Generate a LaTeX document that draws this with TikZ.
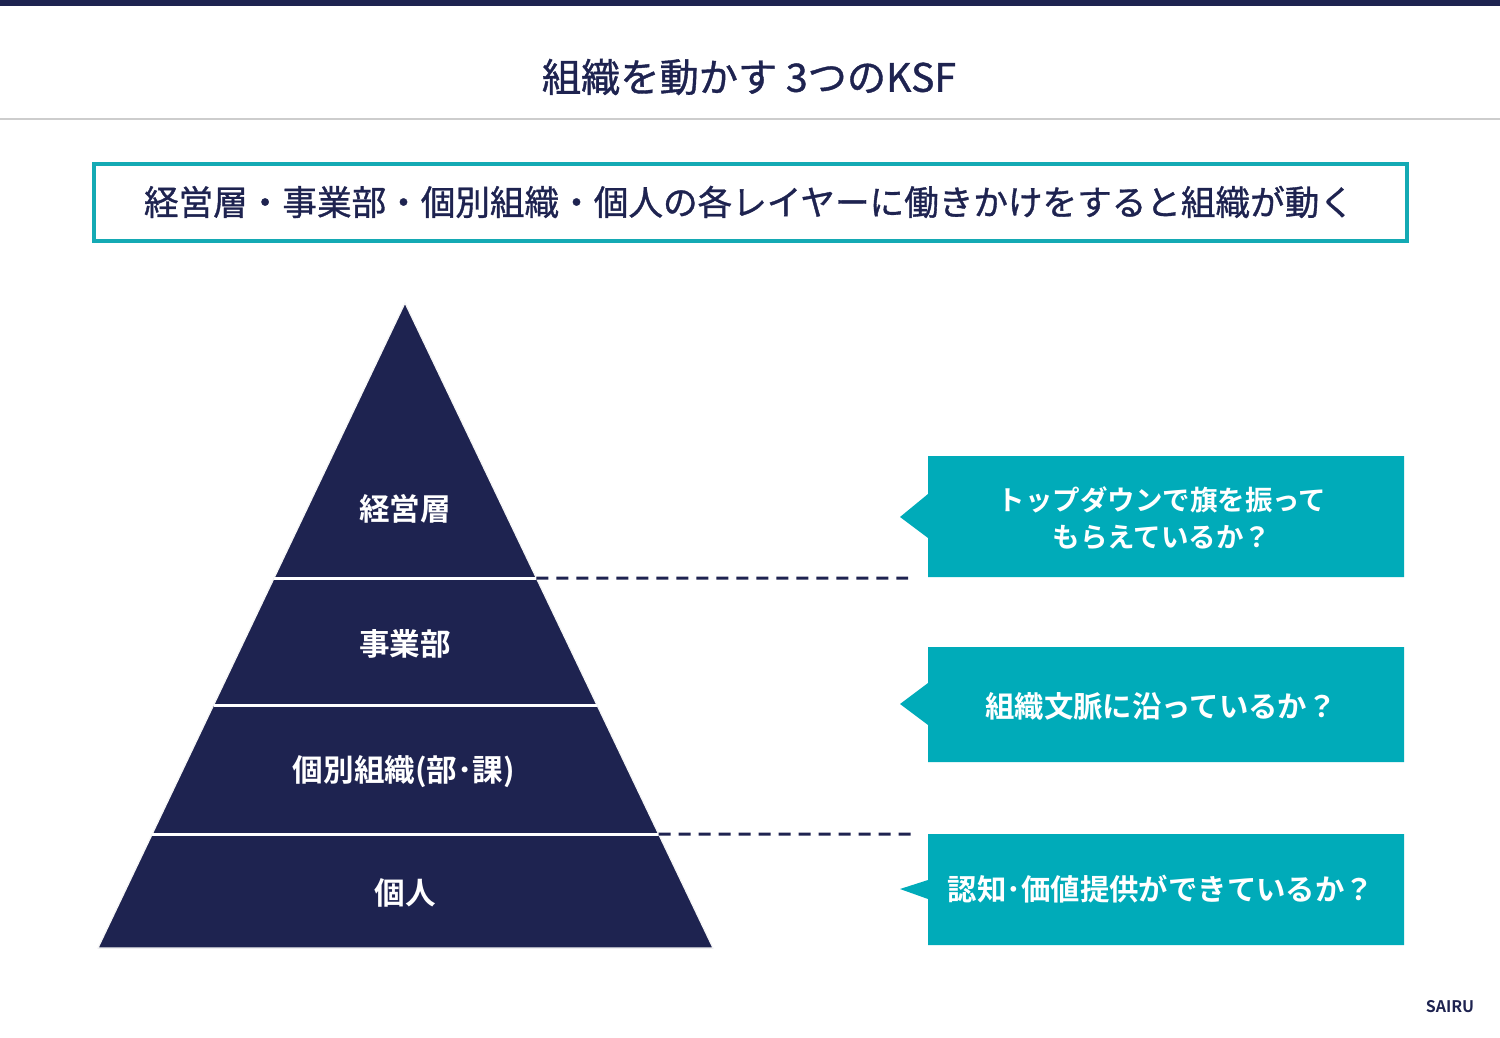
\documentclass[tikz,border=0pt]{standalone}
\usepackage{fontspec}
\setmainfont{Noto Sans CJK JP}[BoldFont={Noto Sans CJK JP Bold}]
\newfontfamily\jpmedium{Noto Sans CJK JP}[FakeBold=1]
\usetikzlibrary{calc}
\definecolor{navy}{RGB}{30,35,80}
\definecolor{calloutteal}{RGB}{0,171,185}
\definecolor{bannerteal}{RGB}{20,170,180}
\definecolor{rulegray}{RGB}{205,205,205}
\tikzset{
  layerlabel/.style={text=white, font=\bfseries\fontsize{15.3}{18}\selectfont},
  callouttext/.style={text=white, align=center, font=\bfseries\fontsize{13.75}{18.5}\selectfont},
  callouttextlarge/.style={callouttext, font=\bfseries\fontsize{14.7}{18.5}\selectfont},
  calloutbox/.style={fill=calloutteal},
  divider/.style={white, line width=1.5pt},
  guide/.style={navy, line width=1.5pt, dash pattern=on 6pt off 4pt},
}
\begin{document}
\begin{tikzpicture}[x=0.5pt,y=-0.5pt]
\useasboundingbox (0,0) rectangle (1500,1038);
% top bar and rule
\fill[navy] (0,0) rectangle (1500,6);
\node[text=navy, font=\jpmedium\fontsize{19.6}{22}\selectfont] (title) at (749,77) {組織を動かす 3つのKSF};
\draw[rulegray, line width=0.6pt] (0,119) -- (1500,119);
% banner
\draw[bannerteal, line width=2pt] (94,164) rectangle (1407,241);
\node[text=navy, font=\jpmedium\fontsize{17.3}{20}\selectfont] (banner) at (749,202) {経営層・事業部・個別組織・個人の各レイヤーに働きかけをすると組織が動く};
% pyramid
\coordinate (apex) at (405,303);
\coordinate (bl) at (98,948);
\coordinate (br) at (713,948);
\fill[navy, draw=white!92!gray, line width=0.6pt] (apex) -- (br) -- (bl) -- cycle;
\coordinate (d1l) at ($(apex)!0.4264!(bl)$);
\coordinate (d1r) at ($(apex)!0.4264!(br)$);
\coordinate (d2l) at ($(apex)!0.6233!(bl)$);
\coordinate (d2r) at ($(apex)!0.6233!(br)$);
\coordinate (d3l) at ($(apex)!0.8233!(bl)$);
\coordinate (d3r) at ($(apex)!0.8233!(br)$);
\draw[divider] (d1l) -- (d1r);
\draw[divider] (d2l) -- (d2r);
\draw[divider] (d3l) -- (d3r);
\node[layerlabel] (l1) at (405,509) {経営層};
\node[layerlabel] (l2) at (405,644) {事業部};
\node[layerlabel] (l3) at (404,772) {個別組織(部･課)};
\node[layerlabel] (l4) at (405,893) {個人};
% dashed guides
\coordinate (g1) at (908,578);
\coordinate (g2) at (912,834);
\draw[guide] (d1r) -- (g1);
\draw[guide] (d3r) -- (g2);
% callouts
\fill[calloutbox] (928,456) -- (1404,456) -- (1404,577) -- (928,577) -- (928,538) -- (900,517) -- (928,494) -- cycle;
\fill[calloutbox] (928,647) -- (1404,647) -- (1404,762) -- (928,762) -- (928,725) -- (900,704) -- (928,683) -- cycle;
\fill[calloutbox] (928,834) -- (1404,834) -- (1404,945) -- (928,945) -- (928,899) -- (900,889) -- (928,880) -- cycle;
\node[callouttext] (c1) at (1162,518) {トップダウンで旗を振って\\もらえているか？};
\node[callouttextlarge] (c2) at (1161,706) {組織文脈に沿っているか？};
\node[callouttextlarge] (c3) at (1161,889) {認知･価値提供ができているか？};
% logo
\node[text=navy, font=\bfseries\fontsize{8}{9}\selectfont] (logo) at (1450,1007) {SAIRU};
\end{tikzpicture}
\end{document}
